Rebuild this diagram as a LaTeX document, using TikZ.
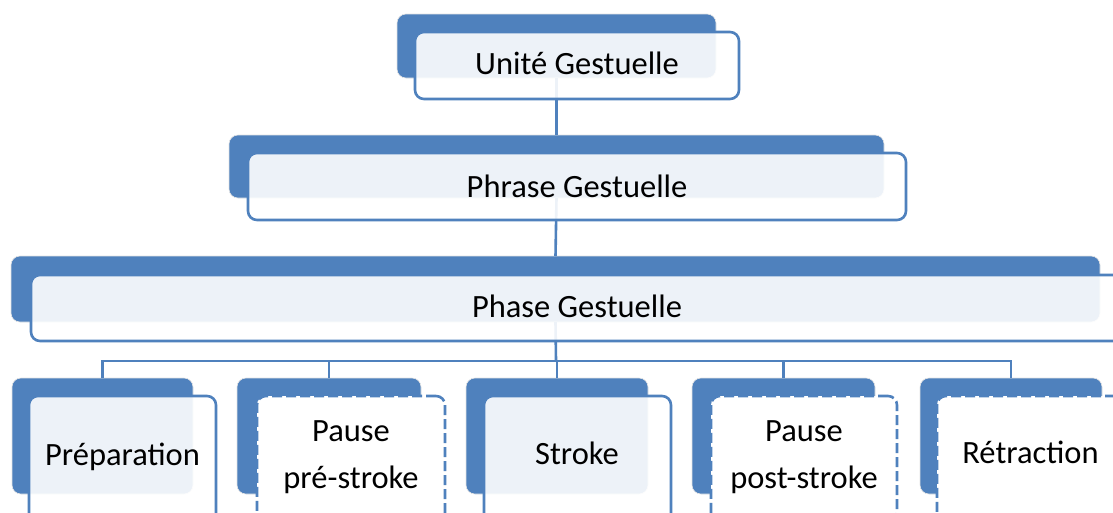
\documentclass[tikz,border=0pt]{standalone}
\usepackage{fontspec}
\setmainfont{Carlito}
\definecolor{accent}{HTML}{4F81BD}
\tikzset{
  backbox/.style={anchor=north west, inner sep=0pt, outer sep=0pt,
    rounded corners=9pt, fill=accent, draw=black!10, line width=0.6pt},
  frontbox/.style={anchor=north west, inner sep=0pt, outer sep=0pt,
    rounded corners=9pt, fill=white, fill opacity=0.9, draw=accent,
    draw opacity=1, line width=2.6pt},
  pausebox/.style={frontbox, fill opacity=1, dash pattern=on 10pt off 4pt},
  caption/.style={anchor=base, inner sep=0pt, align=center,
    font=\fontsize{32.5}{47}\selectfont},
  link/.style={draw=accent, line width=2.6pt},
}
\begin{document}
\begin{tikzpicture}[x=1pt, y=-1pt]
  \useasboundingbox (0,0) rectangle (1113,512);
  \clip (0,0) rectangle (1113,512);
  \fill[white] (0,0) rectangle (1113,512);

  % back (dark) boxes
  \node[backbox, minimum width=319pt,  minimum height=64pt]  (ub) at (397,14)  {};
  \node[backbox, minimum width=655pt,  minimum height=63pt]  (pb) at (229,135) {};
  \node[backbox, minimum width=1089pt, minimum height=66pt]  (fb) at (11,256)  {};
  \node[backbox, minimum width=181pt,  minimum height=116pt] (b1) at (12,378)  {};
  \node[backbox, minimum width=184pt,  minimum height=116pt] (b2) at (237,378) {};
  \node[backbox, minimum width=182pt,  minimum height=116pt] (b3) at (466,378) {};
  \node[backbox, minimum width=183pt,  minimum height=116pt] (b4) at (692,378) {};
  \node[backbox, minimum width=182pt,  minimum height=116pt] (b5) at (920,378) {};

  % connectors
  \coordinate (bus) at (556,361);
  \draw[link] (ub.south) -- (pb.north);
  \draw[link] (pb.south) -- (fb.north);
  \draw[link] (fb.south) -- (bus);
  \foreach \c in {b1,b2,b3,b4,b5}
    \draw[link] (bus) -| (\c.north);

  % front (light) boxes
  \node[frontbox, minimum width=324pt,  minimum height=67pt]  (uf) at (415,32)  {};
  \node[frontbox, minimum width=658pt,  minimum height=67pt]  (pf) at (248,153) {};
  \node[frontbox, minimum width=1092pt, minimum height=66pt]  (ff) at (31,275)  {};
  \node[frontbox, minimum width=187pt,  minimum height=126pt] (f1) at (29,396)  {};
  \node[pausebox, minimum width=188pt,  minimum height=126pt] (f2) at (257,396) {};
  \node[frontbox, minimum width=187pt,  minimum height=126pt] (f3) at (484,396) {};
  \node[pausebox, minimum width=186pt,  minimum height=126pt] (f4) at (711,396) {};
  \node[pausebox, minimum width=187pt,  minimum height=126pt] (f5) at (937,396) {};

  % captions
  \node[caption] (tu) at (577,74)    {Unité Gestuelle};
  \node[caption] (tp) at (577,197)   {Phrase Gestuelle};
  \node[caption] (tf) at (577,317)   {Phase Gestuelle};
  \node[caption] (t1) at (122.5,465) {Préparation};
  \node[caption] (t2) at (351,488)   {Pause\\pré-stroke};
  \node[caption] (t3) at (577,464)   {Stroke};
  \node[caption] (t4) at (804,488)   {Pause\\post-stroke};
  \node[caption] (t5) at (1030.5,463) {Rétraction};
\end{tikzpicture}
\end{document}
